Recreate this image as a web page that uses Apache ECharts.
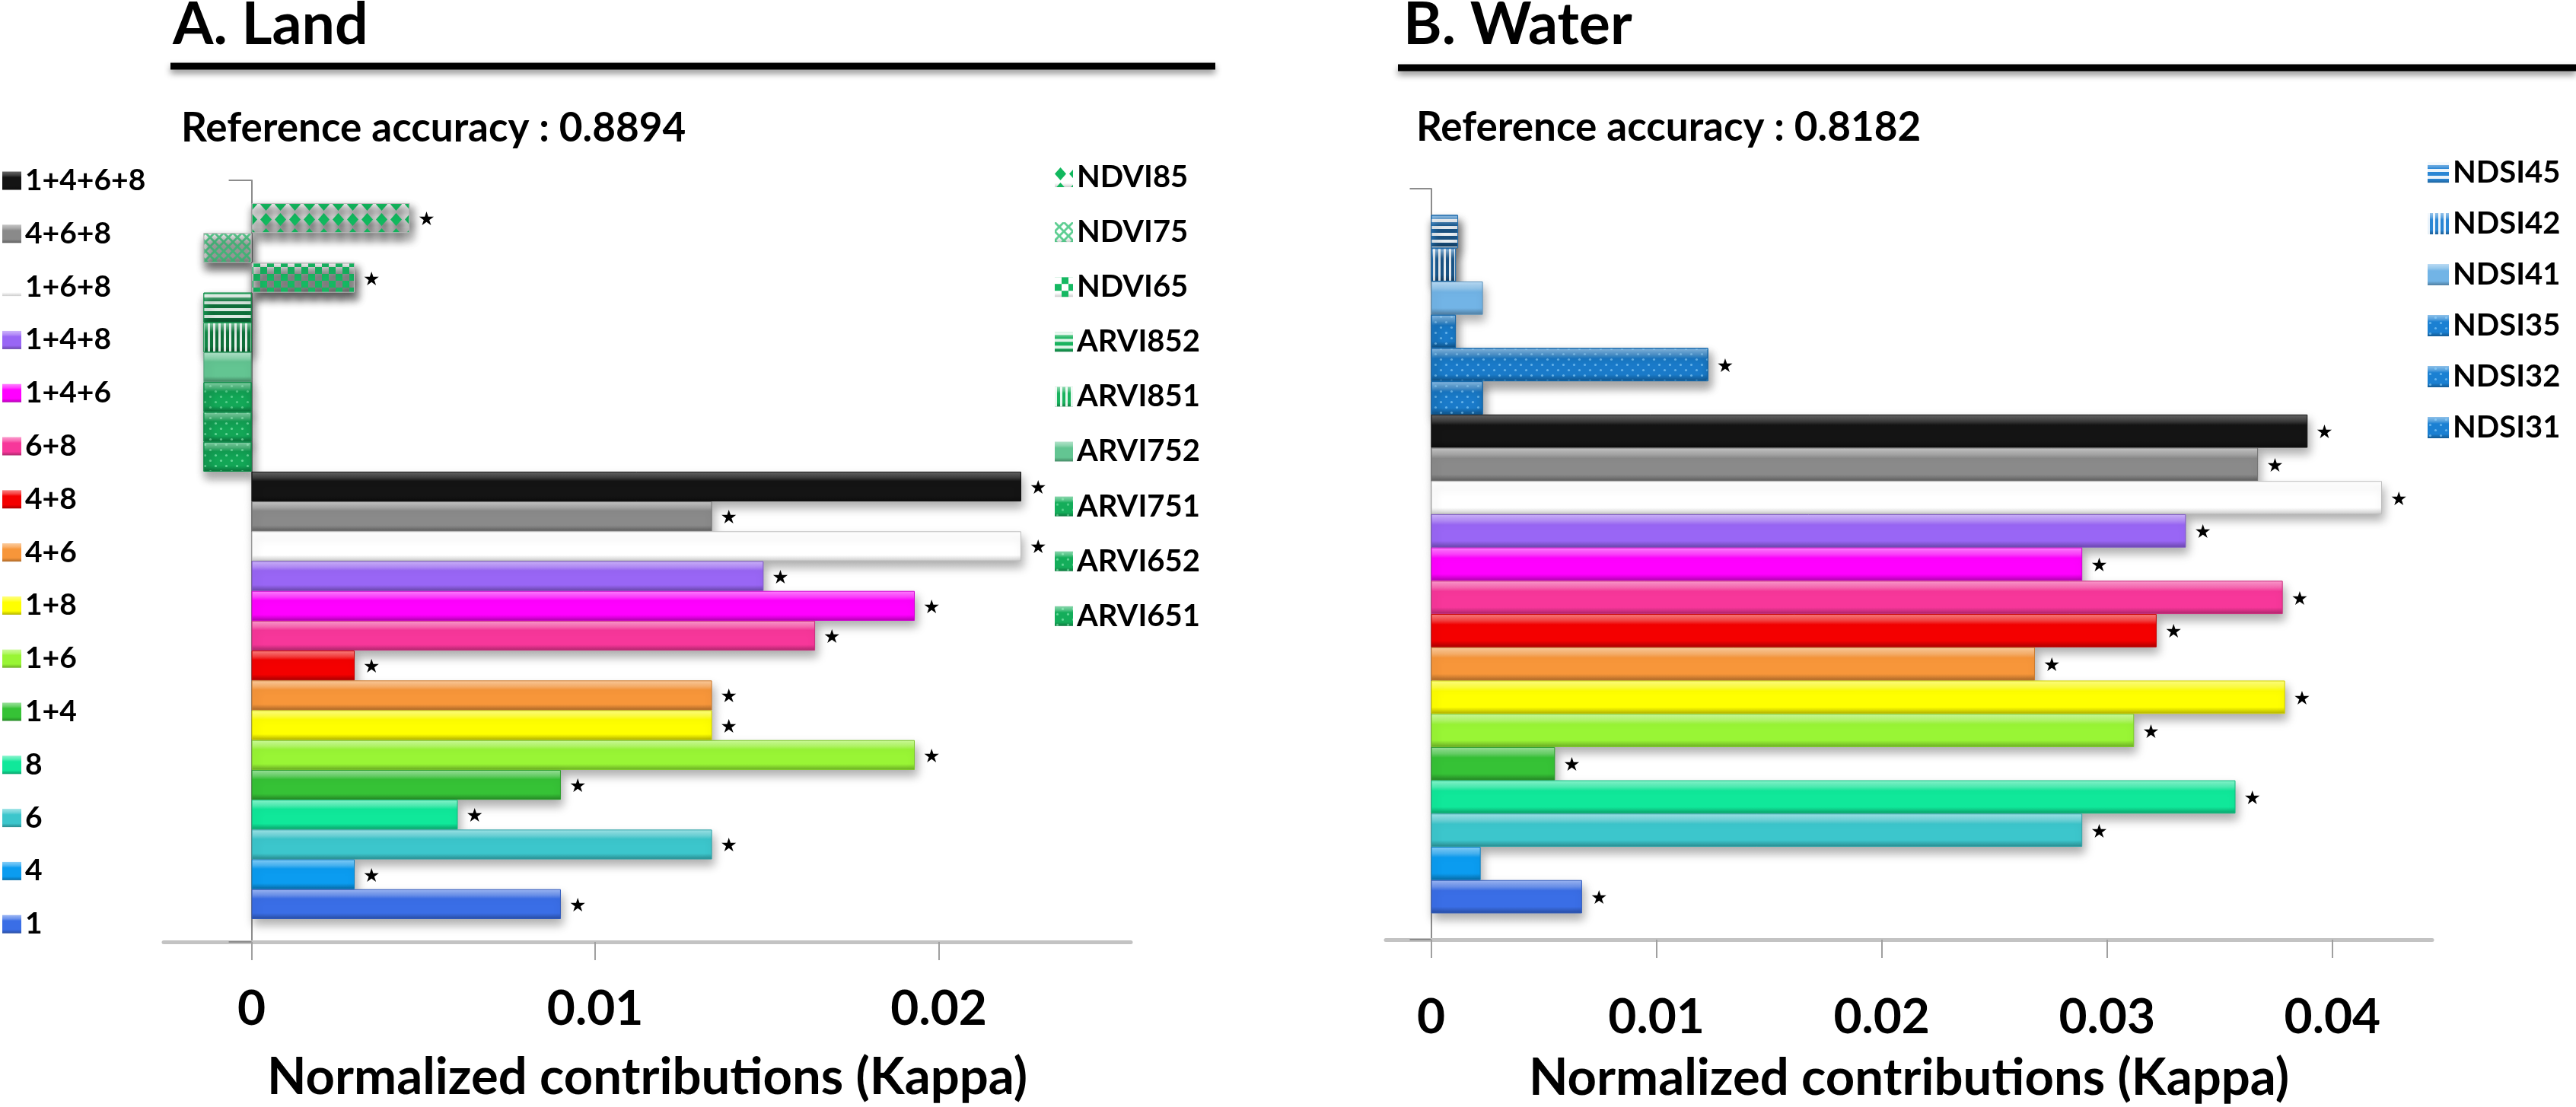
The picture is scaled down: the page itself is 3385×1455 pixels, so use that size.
<!DOCTYPE html>
<html><head><meta charset="utf-8">
<script src="https://cdn.jsdelivr.net/npm/echarts@6/dist/echarts.min.js"></script>
<style>html,body{margin:0;padding:0;background:#fff}#c{width:3385px;height:1455px}</style>
</head><body><div id="c"></div>
<script>
// ---------------- DATA ----------------
// Bars listed bottom -> top
const landCategories = ['1','4','6','8','1+4','1+6','1+8','4+6','4+8','6+8','1+4+6','1+4+8','1+6+8','4+6+8','1+4+6+8',
  'ARVI651','ARVI652','ARVI751','ARVI752','ARVI851','ARVI852','NDVI65','NDVI75','NDVI85'];
const landValues = [0.0090,0.0030,0.0134,0.0060,0.0090,0.0193,0.0134,0.0134,0.0030,0.0164,0.0193,0.0149,0.0224,0.0134,0.0224,
  -0.0014,-0.0014,-0.0014,-0.0014,-0.0014,-0.0014,0.0030,-0.0014,0.0046];
const landSignificant = [1,1,1,1,1,1,1,1,1,1,1,1,1,1,1, 0,0,0,0,0,0,1,0,1];

const waterCategories = ['1','4','6','8','1+4','1+6','1+8','4+6','4+8','6+8','1+4+6','1+4+8','1+6+8','4+6+8','1+4+6+8',
  'NDSI31','NDSI32','NDSI35','NDSI41','NDSI42','NDSI45'];
const waterValues = [0.0067,0.0022,0.0289,0.0357,0.0055,0.0312,0.0379,0.0268,0.0322,0.0378,0.0289,0.0335,0.0422,0.0367,0.0389,
  0.0023,0.0123,0.0011,0.0023,0.0011,0.0012];
const waterSignificant = [1,0,1,1,1,1,1,1,1,1,1,1,1,1,1, 0,1,0,0,0,0];

const landTicks = [0, 0.01, 0.02];
const landTickLabels = ['0', '0.01', '0.02'];
const waterTicks = [0, 0.01, 0.02, 0.03, 0.04];
const waterTickLabels = ['0', '0.01', '0.02', '0.03', '0.04'];

const landLegendNames = ['1+4+6+8','4+6+8','1+6+8','1+4+8','1+4+6','6+8','4+8','4+6','1+8','1+6','1+4','8','6','4','1'];
const landIndexLegendNames = ['NDVI85','NDVI75','NDVI65','ARVI852','ARVI851','ARVI752','ARVI751','ARVI652','ARVI651'];
const waterIndexLegendNames = ['NDSI45','NDSI42','NDSI41','NDSI35','NDSI32','NDSI31'];

const axisTitle = 'Normalized contributions (Kappa)';
const landTitle = 'A. Land', waterTitle = 'B. Water';
const landAccuracy = 'Reference accuracy : 0.8894';
const waterAccuracy = 'Reference accuracy : 0.8182';

// ---------------- STYLE ----------------
const baseColors = {
  '1':'#3a6ee6','4':'#0b9cf0','6':'#3cc6cc','8':'#10e89a','1+4':'#36c236','1+6':'#99f535','1+8':'#ffff00',
  '4+6':'#f7963a','4+8':'#f40000','6+8':'#f7379a','1+4+6':'#ff00ff','1+4+8':'#9966f5','1+6+8':'#ffffff',
  '4+6+8':'#8a8a8a','1+4+6+8':'#141414',
  'ARVI651':'#14ad5a','ARVI652':'#14ad5a','ARVI751':'#14ad5a','ARVI752':'#63c592','ARVI851':'#19b35e','ARVI852':'#19b35e',
  'NDVI65':'#ffffff','NDVI75':'#ffffff','NDVI85':'#ffffff',
  'NDSI31':'#1b80d2','NDSI32':'#1b80d2','NDSI35':'#1b80d2','NDSI41':'#72b4e6','NDSI42':'#2a86d4','NDSI45':'#2a86d4'
};
const dots = (c) => ({symbol:'circle', symbolSize:0.45, color:c, dashArrayX:[[7,7],[0,7,7,0]], dashArrayY:[7,0]});
const hStripes = (c) => ({symbol:'rect', symbolSize:1, color:c, dashArrayX:[40,0], dashArrayY:[4,5]});
const vStripes = (c) => ({symbol:'rect', symbolSize:1, color:c, dashArrayX:[3,4], dashArrayY:[40,0]});
const latticePath = 'path://M0,0L2,0L12,10L12,12L10,12L0,2ZM10,0L12,0L12,2L2,12L0,12L0,10Z';
const decals = {
  'ARVI651': dots('rgba(170,255,205,0.55)'),
  'ARVI652': dots('rgba(170,255,205,0.55)'),
  'ARVI751': dots('rgba(170,255,205,0.45)'),
  'ARVI851': vStripes('rgba(255,255,255,0.9)'),
  'ARVI852': hStripes('rgba(255,255,255,0.85)'),
  'NDVI65': {symbol:'rect', symbolSize:1, color:'#16b862', dashArrayX:[[9,9],[0,9,9,0]], dashArrayY:[9,0]},
  'NDVI75': {symbol:latticePath, symbolSize:1, symbolKeepAspect:false, color:'rgba(40,190,110,0.75)', dashArrayX:[12,0], dashArrayY:[12,0]},
  'NDVI85': {symbol:'diamond', symbolSize:1, color:'#12b85e', dashArrayX:[15,4], dashArrayY:[17,3]},
  'NDSI31': dots('rgba(150,215,255,0.6)'),
  'NDSI32': dots('rgba(150,215,255,0.6)'),
  'NDSI35': dots('rgba(150,215,255,0.6)'),
  'NDSI42': vStripes('rgba(255,255,255,0.9)'),
  'NDSI45': hStripes('rgba(255,255,255,0.9)')
};
function hex2rgb(h){h=h.replace('#','');return [0,2,4].map(i=>parseInt(h.substr(i,2),16));}
function mix(c, t, k){const a=hex2rgb(c), b=hex2rgb(t);return 'rgb('+a.map((v,i)=>Math.round(v+(b[i]-v)*k)).join(',')+')';}
function styleFor(name){
  const c = baseColors[name];
  const lt = c === '#141414' ? 0.35 : 0.5;
  const isWhite = c === '#ffffff';
  const st = {
    color: new echarts.graphic.LinearGradient(0,0,0,1,[
      {offset:0, color: mix(c,'#ffffff',lt)},
      {offset:0.2, color: mix(c,'#ffffff',lt*0.5)},
      {offset:0.32, color: c},
      {offset:0.8, color: c},
      {offset:1, color: mix(c,'#000000',isWhite ? 0.2 : 0.3)}
    ]),
    borderColor: isWhite ? '#bdbdbd' : mix(c,'#000000',0.18), borderWidth: 1,
    shadowColor:'rgba(0,0,0,0.32)', shadowBlur:12, shadowOffsetY:8, shadowOffsetX:3
  };
  if (decals[name]) st.decal = decals[name];
  return st;
}

const FONT = 'Lato';
// ECharts stacks the first series of a horizontal cluster at the top, so series are emitted top -> bottom
function buildSeries(cats, vals, sig, idx, gap){
  const out = cats.map((name,i)=>({
    type:'bar', name, xAxisIndex: idx, yAxisIndex: idx,
    barGap:'0%', barCategoryGap: gap, z: 100 - i,
    itemStyle: styleFor(name),
    label:{show:false, position:'right', distance:11, formatter:'★', fontSize:25, color:'#000', offset:[0,3], fontFamily:'DejaVu Sans'},
    emphasis:{disabled:true},
    data:[{value: vals[i], label:{show: sig[i]===1}}]
  }));
  return out.reverse();
}

function xAxisFor(idx, min, max, ticks, labels, margin, nameGap){
  return {
    type:'value', gridIndex: idx, min, max,
    axisLine:{show:true, onZero:false, lineStyle:{color:'#c3c3c3', width:5}},
    axisTick:{show:true, customValues: ticks, length:24, lineStyle:{color:'#a0a0a0', width:2}},
    axisLabel:{customValues: ticks, formatter: v => labels[ticks.indexOf(v)] ?? '', margin,
      fontFamily:FONT, fontWeight:'bold', fontSize:64, lineHeight:64, color:'#000'},
    splitLine:{show:false},
    name: axisTitle, nameLocation:'middle', nameGap,
    nameTextStyle:{fontFamily:FONT, fontWeight:'bold', fontSize:67, lineHeight:67, color:'#000'}
  };
}
function yAxisFor(idx, tickLen){
  return {
    type:'category', gridIndex: idx, data:[''],
    axisLine:{show:true, onZero:true, lineStyle:{color:'#8c8c8c', width:2}},
    axisTick:{show:true, length: tickLen, lineStyle:{color:'#8c8c8c', width:2}},
    axisLabel:{show:false}, splitLine:{show:false}
  };
}
function legendFor(names, left, top, iw, ih, gap, fs){
  return {
    data: names, orient:'vertical', left, top, padding:0, itemGap: gap, itemWidth: iw, itemHeight: ih,
    icon:'rect', selectedMode:false,
    itemStyle:{shadowBlur:0, shadowOffsetX:0, shadowOffsetY:0, borderWidth:0},
    textStyle:{fontFamily:FONT, fontWeight:'bold', fontSize: fs, lineHeight: ih, color:'#000'}
  };
}
function headerText(text, x, y, size){
  return {type:'text', x, y, style:{text, fill:'#000', font:'bold '+size+'px '+FONT,
    textAlign:'left', textVerticalAlign:'middle', align:'left', verticalAlign:'middle'}};
}
function rule(x1, x2, y){
  return {type:'line', shape:{x1, y1:y, x2, y2:y},
    style:{stroke:'#000', lineWidth:9, shadowColor:'rgba(0,0,0,0.45)', shadowBlur:8, shadowOffsetY:5}};
}

const chart = echarts.init(document.getElementById('c'), null, {renderer:'canvas'});
chart.setOption({
  backgroundColor:'#ffffff',
  animation:false,
  grid:[
    {left:215, top:237, width:1271, height:1001, containLabel:false, outerBoundsMode:'none'},
    {left:1821, top:248, width:1375, height:987, containLabel:false, outerBoundsMode:'none'}
  ],
  xAxis:[
    xAxisFor(0, -0.00256, 0.02559, landTicks, landTickLabels, 56, 145),
    xAxisFor(1, -0.00201, 0.04443, waterTicks, waterTickLabels, 70, 149)
  ],
  yAxis:[ yAxisFor(0, 30), yAxisFor(1, 28) ],
  legend:[
    legendFor(landLegendNames, 3, 218, 25, 24, 30.8, 39),
    legendFor(landIndexLegendNames, 1386, 213, 24, 26, 32.1, 40),
    legendFor(waterIndexLegendNames, 3190, 207, 28, 28, 27, 40)
  ],
  graphic:[
    headerText(landTitle, 227, 33, 77),
    headerText(waterTitle, 1844, 33, 77),
    rule(224, 1597, 87),
    rule(1837, 3385, 89),
    headerText(landAccuracy, 238, 169, 53),
    headerText(waterAccuracy, 1861, 168, 53)
  ],
  series:[
    ...buildSeries(landCategories, landValues, landSignificant, 0, '6%'),
    ...buildSeries(waterCategories, waterValues, waterSignificant, 1, '7%')
  ]
});
</script></body></html>
